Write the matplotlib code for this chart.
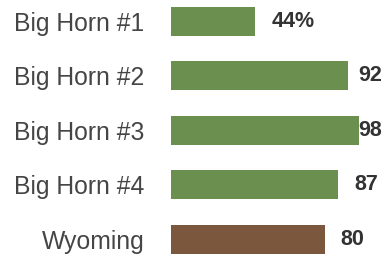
import matplotlib
matplotlib.use("Agg")
import matplotlib.pyplot as plt

# data
categories = ["Big Horn #1", "Big Horn #2", "Big Horn #3", "Big Horn #4", "Wyoming"]
values = [44, 92, 98, 87, 80]
value_labels = ["44%", "92", "98", "87", "80"]
bar_colors = ["#6b8f4f", "#6b8f4f", "#6b8f4f", "#6b8f4f", "#7a573d"]
# gap between bar end and its label, in pixels (98 is squeezed against the edge)
label_gap = [16, 11, -1, 16, 16]

plt.rcParams["font.family"] = ["Liberation Sans", "DejaVu Sans"]

fig = plt.figure(figsize=(3.84, 2.56), dpi=100, facecolor="white")
ax = fig.add_axes([171 / 384, 0, 213 / 384, 1])

pos = list(range(len(categories)))
ax.barh(pos, values, height=0.53, color=bar_colors)

ax.set_xlim(0, 111)
ax.set_ylim(4.30, -0.385)

ax.set_yticks(pos)
ax.set_yticklabels(categories, fontsize=17.8, color="#454545")
ax.tick_params(axis="y", length=0, pad=19)
ax.set_xticks([])
for s in ax.spines.values():
    s.set_visible(False)

for p, v, lab, gap in zip(pos, values, value_labels, label_gap):
    ax.annotate(lab, (v, p), xytext=(gap * 0.72, 0), textcoords="offset points",
                ha="left", va="center", fontsize=15.5, fontweight="bold",
                color="#333333", annotation_clip=False)

fig.savefig("out.png", dpi=100, facecolor="white")
